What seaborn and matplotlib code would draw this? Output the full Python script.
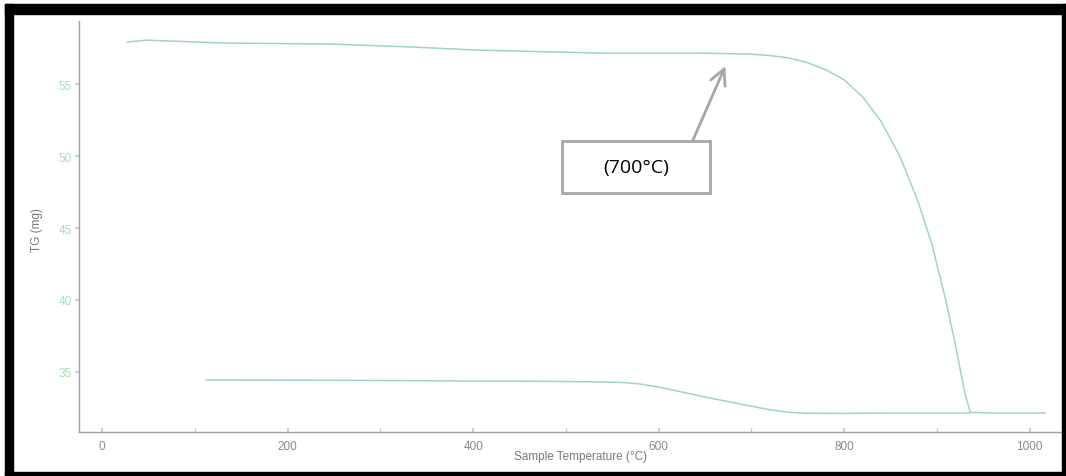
import matplotlib
matplotlib.use("Agg")
import matplotlib.pyplot as plt
from matplotlib.patches import Rectangle
import pandas as pd
import seaborn as sns

# TG heating run: sample temperature (°C) and mass (mg)
heat_temp = [27, 48, 130, 246, 335, 404, 537, 645, 699, 720, 740, 760, 780,
             800, 820, 840, 860, 880, 895, 910, 920, 930, 936, 960, 1000, 1017]
heat_mass = [57.92, 58.05, 57.85, 57.78, 57.57, 57.36, 57.15, 57.15, 57.08,
             56.98, 56.82, 56.50, 56.00, 55.30, 54.10, 52.40, 50.00, 46.80,
             43.80, 39.90, 36.90, 33.60, 32.20, 32.15, 32.15, 32.15]

# Second trace (lower curve)
low_temp = [112, 200, 300, 400, 472, 509, 544, 560, 580, 600, 620, 640, 660,
            680, 700, 720, 740, 760, 800, 850, 900, 936]
low_mass = [34.44, 34.43, 34.41, 34.37, 34.35, 34.33, 34.30, 34.27, 34.17,
            33.95, 33.68, 33.40, 33.13, 32.88, 32.62, 32.38, 32.20, 32.13,
            32.12, 32.15, 32.15, 32.15]

x_ticks = [0, 200, 400, 600, 800, 1000]
y_ticks = [35, 40, 45, 50, 55]
note_text = "(700\u00b0C)"

sns.set_theme(style="white")
plt.rcParams["font.family"] = ["Liberation Sans Narrow", "Liberation Sans", "DejaVu Sans"]

fig = plt.figure(figsize=(10.66, 4.77), dpi=100)
ax = fig.add_axes([79 / 1066, 1 - 433 / 477, 983 / 1066, 411 / 477])

line_color = "#9dd7c2"
heat = pd.DataFrame({"T": heat_temp, "m": heat_mass})
low = pd.DataFrame({"T": low_temp, "m": low_mass})
sns.lineplot(data=heat, x="T", y="m", ax=ax, color=line_color, lw=1.1, sort=False)
sns.lineplot(data=low, x="T", y="m", ax=ax, color=line_color, lw=1.1, sort=False)

ax.set_xlim(-25, 1035)
ax.set_ylim(30.83, 59.38)
ax.set_xticks(x_ticks)
ax.set_xticks(range(0, 1001, 100), minor=True)
ax.set_yticks(y_ticks)

for side in ("top", "right"):
    ax.spines[side].set_visible(False)
for side in ("left", "bottom"):
    ax.spines[side].set_color("#a0a0a0")
    ax.spines[side].set_linewidth(1.0)

ax.tick_params(axis="x", which="both", direction="in", length=3, color="#c8c8c8",
               labelsize=8.5, labelcolor="#8a8a8a", pad=6, bottom=True)
ax.tick_params(axis="y", direction="out", length=3, color="#c8c8c8",
               labelsize=8.5, labelcolor="#a8ddb2", pad=2, left=True)

ax.set_xlabel("Sample Temperature (\u00b0C)", fontsize=8.5, color="#7a7a7a")
ax.set_ylabel("TG (mg)", fontsize=8.5, color="#7a7a7a")
ax.xaxis.set_label_coords(0.51, -0.044)
ax.yaxis.set_label_coords(-0.037, 0.494)

# Annotation box with arrow
box_x0, box_x1 = 496, 655.5
box_y0, box_y1 = 47.43, 51.04
ax.add_patch(Rectangle((box_x0, box_y0), box_x1 - box_x0, box_y1 - box_y0,
                       fill=True, facecolor="white", edgecolor="#a6a6a6", lw=2,
                       zorder=5))
ax.text((box_x0 + box_x1) / 2, (box_y0 + box_y1) / 2, note_text,
        ha="center", va="center", fontsize=14, color="black",
        family=["Open Sans", "DejaVu Sans"], zorder=6)
ax.annotate("", xy=(672, 56.25), xytext=(637, box_y1 + 0.05),
            arrowprops=dict(arrowstyle="->", color="#a6a6a6", lw=2,
                            mutation_scale=28, shrinkA=0, shrinkB=0),
            zorder=6)

# Black frame around the figure
frame = dict(transform=fig.transFigure, color="black", zorder=10, clip_on=False)
W, H = 1066, 477
fig.patches.append(Rectangle((5 / W, 0), 8 / W, 1 - 5 / H, **frame))          # left
fig.patches.append(Rectangle((5 / W, 1 - 15 / H), 1 - 5 / W, 10 / H, **frame))  # top
fig.patches.append(Rectangle((5 / W, 0), 1 - 5 / W, 4 / H, **frame))           # bottom
fig.patches.append(Rectangle((1 - 4 / W, 0), 4 / W, 1 - 5 / H, **frame))       # right

fig.savefig("out.png", dpi=100)
